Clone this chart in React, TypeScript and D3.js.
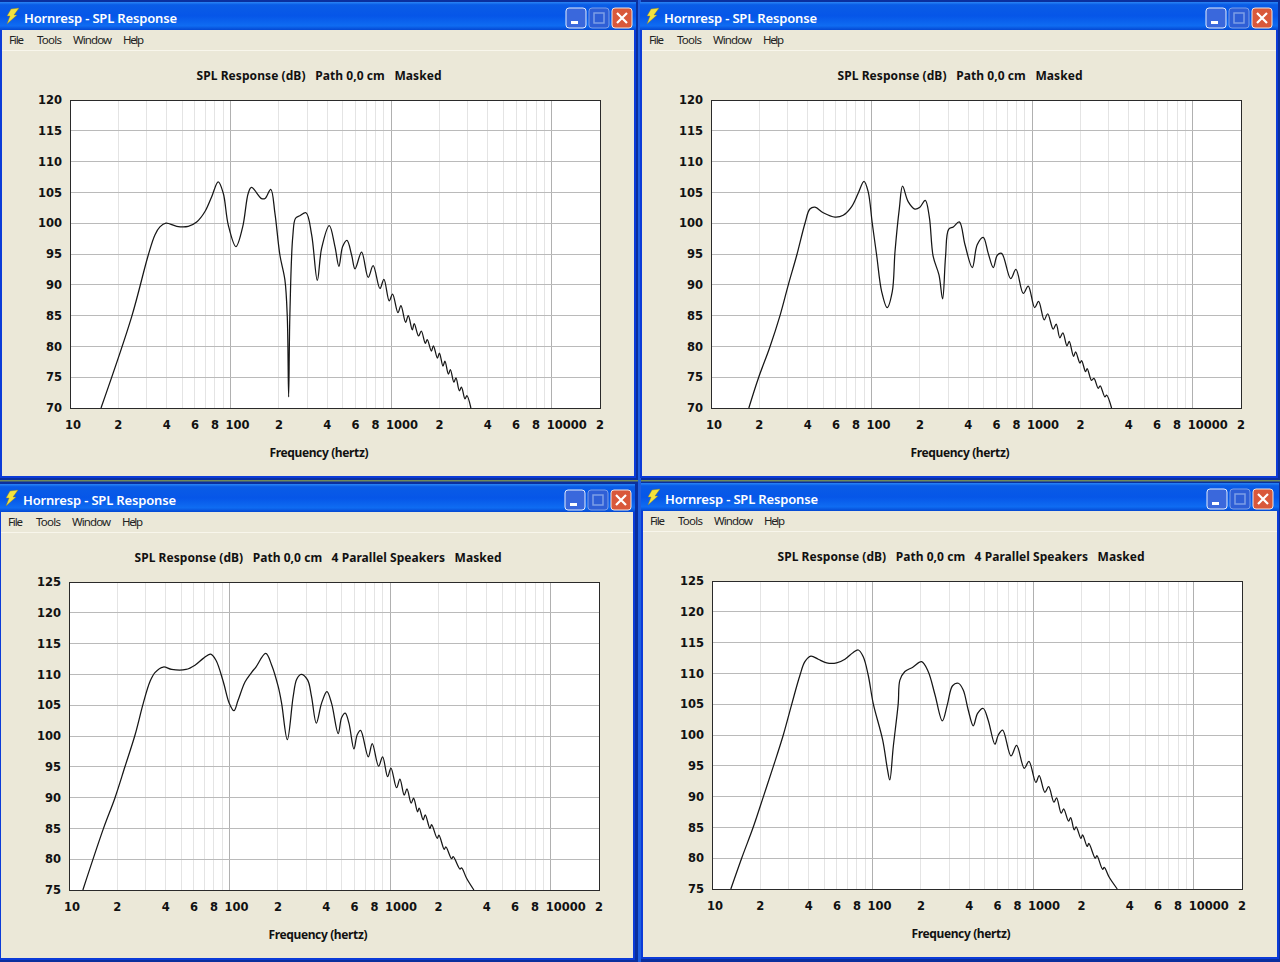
import React from 'react';
import * as d3 from 'd3';

// values (Hz / dB)
const freqA = [15.6, 24.2, 30.7, 33.8, 36.3, 39.6, 46.2, 54.5, 61.5, 69.3, 76.3, 83.8, 90, 96.8, 108, 119, 129, 135, 156, 164, 178, 189, 203, 218, 225.6, 230, 234, 244, 254, 270, 295, 320, 347, 369, 412, 447, 473, 499, 531, 568, 596, 655, 720, 773, 852, 902, 973, 1021, 1103, 1151, 1231, 1279, 1355, 1393, 1483, 1542, 1633, 1679, 1782, 1835, 1942, 1999, 2104, 2163, 2275, 2339, 2460, 2535, 2661, 2742, 2884, 2965, 3140];
const splA = [70, 84.8, 94.8, 98.1, 99.4, 100, 99.5, 99.5, 100.2, 101.9, 104.3, 106.7, 104.9, 99.7, 96.2, 99.4, 104.9, 105.8, 104, 104, 105.5, 101.6, 94.8, 90.8, 84.8, 71.8, 84.8, 97.8, 100.8, 101.2, 101.7, 98.1, 90.7, 95.9, 99.6, 96.2, 93, 96.2, 97.2, 94.8, 92.6, 95.3, 91.2, 93.1, 89.4, 90.9, 87.4, 88.5, 85.5, 86.6, 83.9, 85, 82.7, 83.7, 81.7, 82.5, 80.5, 81.1, 79.25, 80.1, 78.1, 78.9, 76.8, 77.6, 75.5, 76.25, 74.2, 74.9, 72.8, 73.4, 71.5, 72, 70];

const freqB = [17.2, 19.7, 23.3, 26.9, 30.3, 34.2, 38.5, 41.3, 44.4, 50, 59.2, 66.6, 75.2, 82.7, 89.7, 95.3, 101, 107.6, 115.6, 125, 134.6, 140, 149, 156, 169, 186, 200, 216, 229, 242, 263, 277, 289, 302, 323, 352, 382, 424, 455, 496, 533, 573, 607, 646, 735, 793, 881, 946, 1037, 1097, 1189, 1249, 1353, 1413, 1489, 1555, 1648, 1702, 1813, 1866, 1986, 2033, 2153, 2203, 2344, 2427, 2582, 2655, 2840, 2911, 3126];
const splB = [70, 74.8, 79.95, 85, 90, 94.8, 100, 102.3, 102.6, 101.7, 101, 101.3, 102.7, 104.9, 106.8, 105.1, 100, 94.8, 88.9, 86.3, 88.9, 95.4, 102.4, 106, 103.5, 102.3, 102.6, 103.7, 101, 94.6, 91.6, 87.7, 94.6, 99, 99.4, 100.2, 96.5, 92.8, 96.5, 97.7, 95.1, 92.8, 94.8, 95.1, 91, 92.5, 88.6, 89.8, 86.3, 87.3, 84.3, 85.3, 82.8, 83.6, 81.4, 82.2, 80.1, 80.8, 78.4, 79.1, 77.3, 77.7, 75.9, 76.4, 74.5, 74.8, 73.2, 73.6, 71.8, 72.1, 70];

const freqC = [12.2, 16.4, 19.3, 22.3, 25.8, 29, 31.9, 34.3, 38.7, 43.6, 53.5, 60.9, 68.6, 76.2, 82.3, 91.4, 99.6, 106.5, 113, 125, 137, 146, 168, 183, 201, 211, 229, 249, 262, 279, 306, 324, 347, 374, 404, 432, 475, 499, 525, 554, 595, 624, 655, 731, 774, 848, 898, 965, 1012, 1097, 1151, 1224, 1273, 1353, 1400, 1483, 1517, 1607, 1655, 1770, 1813, 1965, 2014, 2173, 2223, 2416, 2472, 2722, 2786, 2994, 3325];
const splC = [75, 85, 89.9, 95, 100.2, 105.3, 108.8, 110.3, 111.2, 110.8, 110.8, 111.5, 112.6, 113.3, 112.3, 108.8, 105.3, 104.1, 105.8, 108.8, 110.3, 111.2, 113.4, 111.5, 108, 105.3, 99.4, 106.4, 109.2, 110, 109.1, 106.4, 102.1, 105.3, 107.2, 105.3, 100.4, 103, 103.7, 102.1, 97.9, 100.2, 100.9, 96.6, 98.75, 95.1, 96.6, 93.4, 94.8, 91.6, 93, 90.4, 91.4, 89.1, 89.9, 87.7, 88.3, 86.4, 87.2, 85, 85.6, 83.4, 83.9, 81.6, 82, 80.1, 80.4, 78.4, 78.6, 76.9, 75];

const freqD = [13.1, 15.3, 18.1, 20.9, 24.1, 27.8, 31.3, 35.3, 37.9, 41.3, 45.9, 51.8, 59.7, 67.3, 75.8, 81.5, 87.5, 94, 101, 115.6, 123.5, 128, 134.6, 144.5, 148, 159, 178, 202, 222, 245, 272, 292, 315, 342, 367, 394, 424, 451, 489, 525, 578, 607, 646, 728, 789, 881, 942, 1040, 1091, 1184, 1249, 1348, 1400, 1496, 1549, 1663, 1714, 1803, 1854, 1986, 2033, 2173, 2223, 2438, 2495, 2710, 2773, 2979, 3342];
const splD = [75, 80, 85.1, 90, 94.9, 100, 104.9, 109.7, 111.9, 112.8, 112.3, 111.7, 111.7, 112.3, 113.4, 113.8, 112.7, 109.7, 105.1, 99.2, 94.6, 92.7, 98.1, 105.1, 108.9, 110.3, 111, 111.9, 110.3, 106.5, 102.3, 104.9, 108, 108.4, 107.3, 104.1, 101.5, 103.5, 104.3, 102.4, 98.5, 100, 100.8, 96.6, 98.3, 94.6, 95.7, 92.3, 93.4, 90.7, 91.6, 89.1, 89.8, 87.3, 88, 86, 86.6, 84.6, 85.1, 83.2, 83.8, 81.9, 82.4, 80, 80.4, 78.2, 78.5, 76.9, 75];

const majorTicks = [10, 100, 1000, 10000];
const labelledMinor = [2, 4, 6, 8];
const menuItems = ['File', 'Tools', 'Window', 'Help'];
const windowTitle = 'Hornresp - SPL Response';
const titlePlain = 'SPL Response (dB)   Path 0,0 cm   Masked';
const titleParallel = 'SPL Response (dB)   Path 0,0 cm   4 Parallel Speakers   Masked';
const xLabel = 'Frequency (hertz)';

const UI_FONT = '"Noto Sans", "Open Sans", sans-serif';
const TICK_FONT = '"DejaVu Sans", sans-serif';
const BEIGE = '#ebe8d8';

type PanelProps = {
  winX: number;
  winY: number;
  winW: number;
  winH: number;
  plotX: number;
  plotY: number;
  freqs: number[];
  spl: number[];
  yMin: number;
  chartTitle: string;
  titleW: number;
  id: string;
};

const PLOT_W = 530;
const PLOT_H = 308;

function Panel({ winX, winY, winW, winH, plotX, plotY, freqs, spl, yMin, chartTitle, titleW, id }: PanelProps) {
  const x = d3.scaleLog().domain([10, 20000]).range([plotX, plotX + PLOT_W]);
  const y = d3.scaleLinear().domain([yMin, yMin + 50]).range([plotY + PLOT_H, plotY]);
  const line = d3.line<number>()
    .x((_, i) => x(freqs[i]))
    .y((d) => y(d))
    .curve(d3.curveCatmullRom.alpha(0.5));

  const yTicks = d3.range(yMin, yMin + 51, 5);
  const gridFreqs = majorTicks.flatMap((m) => d3.range(2, 10).map((k) => m * k)).filter((f) => f <= 20000);
  const cx = plotX + PLOT_W / 2 - 16;
  const menuX = [9, 37, 73, 123];
  const menuW = [15, 25, 39, 21];
  const btnX = 566;

  return (
    <g>
      <rect x={winX} y={winY} width={winW} height={winH} fill="#0b3bd8" />
      <rect x={winX} y={winY} width={winW} height={28} fill={`url(#bar-${id})`} />
      <rect x={winX + 2} y={winY + 28} width={winW - 4} height={winH - 30} fill={BEIGE} />
      <line x1={winX + 2} x2={winX + winW - 2} y1={winY + 48.5} y2={winY + 48.5} stroke="#f8f6ec" />

      <defs>
        <linearGradient id={`bar-${id}`} x1="0" x2="0" y1="0" y2="1">
          <stop offset="0%" stopColor="#2a86f5" />
          <stop offset="10%" stopColor="#0a5ce6" />
          <stop offset="50%" stopColor="#0656e8" />
          <stop offset="85%" stopColor="#0f6cf2" />
          <stop offset="100%" stopColor="#0448d2" />
        </linearGradient>
      </defs>

      {/* title bar */}
      <path
        d={`M${winX + 11},${winY + 7} L${winX + 19},${winY + 6} L${winX + 14},${winY + 13} L${winX + 17},${winY + 13} L${winX + 7},${winY + 22} L${winX + 10},${winY + 14} L${winX + 7},${winY + 14} Z`}
        fill="#f4e23c"
        stroke="#8a7a20"
        strokeWidth={0.4}
      />
      <text x={winX + 24} y={winY + 21} fill="#fff" fontFamily={UI_FONT} fontSize={13} fontWeight={600} textLength={153}>
        {windowTitle}
      </text>

      <g transform={`translate(${winX + btnX},${winY + 6})`}>
        <rect x={0} y={0} width={20} height={20} rx={3} fill="#3a68dc" stroke="#e4ecfb" />
        <rect x={5} y={13} width={7} height={3} fill="#fff" />
        <rect x={23} y={0} width={20} height={20} rx={3} fill="#2f5fd6" stroke="#7d9ee6" />
        <rect x={28} y={5} width={10} height={10} fill="none" stroke="#7d9ee6" strokeWidth={1.5} />
        <rect x={46} y={0} width={20} height={20} rx={3} fill="#d9583a" stroke="#f0e4df" />
        <path d="M51,5 L61,15 M61,5 L51,15" stroke="#fff" strokeWidth={2.2} />
      </g>

      {/* menu bar */}
      {menuItems.map((m, i) => (
        <text key={m} x={winX + menuX[i]} y={winY + 42} fontFamily={UI_FONT} fontSize={11.5} fill="#222" textLength={menuW[i]}>
          {m}
        </text>
      ))}

      <text
        x={cx}
        y={plotY - 20}
        textAnchor="middle"
        fontFamily={UI_FONT}
        fontSize={12}
        fontWeight={700}
        fill="#111"
        textLength={titleW}
        style={{ whiteSpace: 'pre' }}
      >
        {chartTitle}
      </text>

      {/* plot */}
      <rect x={plotX} y={plotY} width={PLOT_W} height={PLOT_H} fill="#fff" />
      <g shapeRendering="crispEdges">
        {gridFreqs.map((f) => (
          <line key={f} x1={x(f)} x2={x(f)} y1={plotY} y2={plotY + PLOT_H} stroke="#e4e4e4" />
        ))}
        {majorTicks.slice(1).map((f) => (
          <line key={f} x1={x(f)} x2={x(f)} y1={plotY} y2={plotY + PLOT_H} stroke="#b0b0b0" />
        ))}
        {yTicks.slice(1, -1).map((t) => (
          <line key={t} x1={plotX} x2={plotX + PLOT_W} y1={y(t)} y2={y(t)} stroke="#bababa" />
        ))}
      </g>
      <path d={line(spl) ?? ''} fill="none" stroke="#161616" strokeWidth={1.25} />
      <rect x={plotX} y={plotY} width={PLOT_W} height={PLOT_H} fill="none" stroke="#2a2a2a" strokeWidth={1} shapeRendering="crispEdges" />

      {/* axis labels */}
      {yTicks.map((t) => (
        <text key={t} x={plotX - 8} y={y(t)} dy="0.36em" textAnchor="end" fontFamily={TICK_FONT} fontWeight={700} fontSize={11.5} fill="#111">
          {t}
        </text>
      ))}
      {majorTicks.map((m) => (
        <text key={m} x={x(m) - 5} y={plotY + PLOT_H + 21} fontFamily={TICK_FONT} fontWeight={700} fontSize={11.5} fill="#111">
          {m}
        </text>
      ))}
      {majorTicks.flatMap((m) =>
        labelledMinor
          .filter((k) => m * k <= 20000)
          .map((k) => (
            <text key={m * k} x={x(m * k)} y={plotY + PLOT_H + 21} textAnchor="middle" fontFamily={TICK_FONT} fontWeight={700} fontSize={11.5} fill="#111">
              {k}
            </text>
          ))
      )}
      <text x={plotX + PLOT_W / 2 - 16} y={plotY + PLOT_H + 49} textAnchor="middle" fontFamily={UI_FONT} fontSize={12} fontWeight={700} fill="#111" textLength={99}>
        {xLabel}
      </text>
    </g>
  );
}

export default function App() {
  return (
    <svg width={1280} height={962} style={{ position: 'absolute', left: 0, top: 0, display: 'block' }}>
      <rect width={1280} height={962} fill="#0a2f9e" />
      <rect x={0} y={480} width={1280} height={1.5} fill="#6f8a5a" />
      <rect x={638} y={0} width={3} height={962} fill="#1f5fe0" />
      <Panel id="a" winX={0} winY={2} winW={636} winH={476} plotX={70} plotY={100} freqs={freqA} spl={splA} yMin={70} chartTitle={titlePlain} titleW={245} />
      <Panel id="b" winX={640} winY={2} winW={638} winH={476} plotX={711} plotY={100} freqs={freqB} spl={splB} yMin={70} chartTitle={titlePlain} titleW={245} />
      <Panel id="c" winX={-1} winY={484} winW={636} winH={476} plotX={69} plotY={582} freqs={freqC} spl={splC} yMin={75} chartTitle={titleParallel} titleW={367} />
      <Panel id="d" winX={641} winY={483} winW={638} winH={476} plotX={712} plotY={581} freqs={freqD} spl={splD} yMin={75} chartTitle={titleParallel} titleW={367} />
    </svg>
  );
}
